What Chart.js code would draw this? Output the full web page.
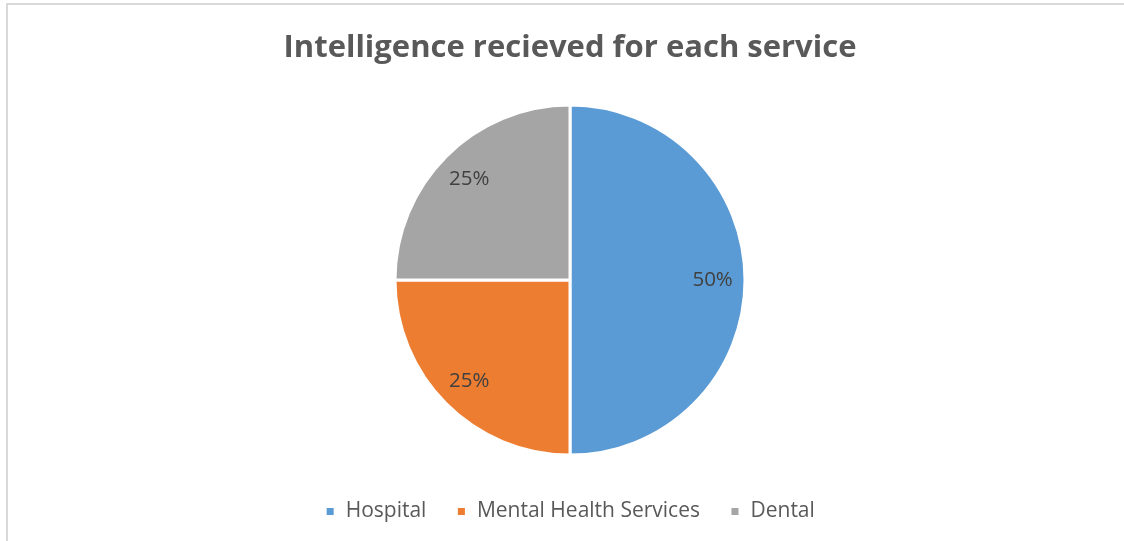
<!DOCTYPE html>
<html>
<head>
<meta charset="utf-8">
<script src="https://cdn.jsdelivr.net/npm/chart.js@4/dist/chart.umd.min.js"></script>
<style>
  html, body { margin: 0; padding: 0; background: #fff; overflow: hidden; }
  #frame {
    position: absolute; left: 6px; top: 3px;
    width: 1140px; height: 560px;
    border: 2px solid #d9d9d9;
  }
  #wrap { position: absolute; left: 0; top: 0; width: 1124px; height: 541px; }
</style>
</head>
<body>
<div id="frame"></div>
<div id="wrap"><canvas id="myChart" width="1124" height="541"></canvas></div>
<script>
const services = ['Hospital', 'Mental Health Services', 'Dental'];
const share = [50, 25, 25];
const colours = ['#5b9bd5', '#ed7d31', '#a5a5a5'];

// writes the percentage inside each slice
const sliceLabels = {
    id: 'sliceLabels',
    afterDatasetsDraw(chart) {
        const ctx = chart.ctx;
        const data = chart.data.datasets[0].data;
        const total = data.reduce((a, b) => a + b, 0);
        const meta = chart.getDatasetMeta(0);
        ctx.save();
        ctx.font = '20.5px "Open Sans", sans-serif';
        ctx.fillStyle = '#404040';
        ctx.textAlign = 'center';
        ctx.textBaseline = 'middle';
        meta.data.forEach((arc, i) => {
            const p = arc.getProps(['x', 'y', 'startAngle', 'endAngle', 'outerRadius'], true);
            const mid = (p.startAngle + p.endAngle) / 2;
            const r = p.outerRadius * 0.815;
            const pct = Math.round(data[i] / total * 100) + '%';
            ctx.fillText(pct, p.x + Math.cos(mid) * r, p.y + Math.sin(mid) * r);
        });
        ctx.restore();
    }
};

function renderChart() {
    let ctx = document.getElementById('myChart').getContext('2d');
    let myChart = new Chart(ctx, {
        type: 'pie',
        data: {
            labels: services,
            datasets: [{
                data: share,
                backgroundColor: colours,
                borderColor: '#ffffff',
                borderWidth: 3
            }]
        },
        options: {
            responsive: false,
            animation: false,
            radius: 175,
            layout: { padding: { top: 0, bottom: 9, left: 16, right: 0 } },
            plugins: {
                title: {
                    display: true,
                    text: 'Intelligence recieved for each service',
                    color: '#595959',
                    font: { family: '"Open Sans", sans-serif', size: 31, weight: 'bold' },
                    padding: { top: 30, bottom: 22 }
                },
                legend: {
                    display: true,
                    position: 'bottom',
                    labels: {
                        color: '#595959',
                        font: { family: '"Open Sans", sans-serif', size: 21 },
                        boxWidth: 10,
                        boxHeight: 10,
                        padding: 30
                    }
                },
                tooltip: { enabled: false }
            }
        },
        plugins: [sliceLabels]
    });
}

renderChart();
</script>
</body>
</html>
